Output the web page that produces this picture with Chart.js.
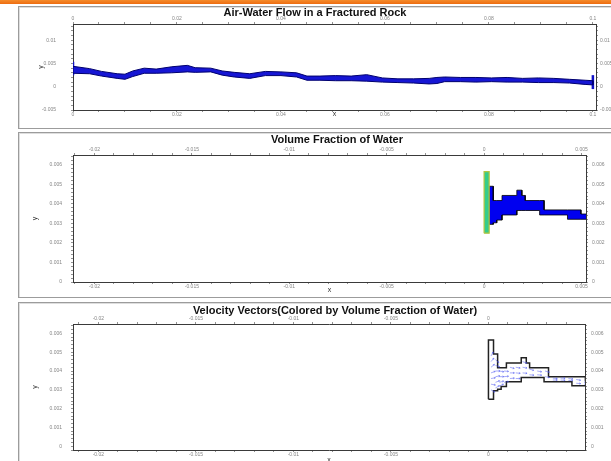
<!DOCTYPE html>
<html>
<head>
<meta charset="utf-8">
<script src="https://cdn.jsdelivr.net/npm/chart.js@4.4.1/dist/chart.umd.min.js"></script>
<style>
  html, body { margin: 0; padding: 0; }
  body { width: 611px; height: 461px; overflow: hidden; background: #fff; position: relative;
         font-family: "Liberation Sans", Arial, sans-serif; }
  .topbar { position: absolute; left: 0; top: 0; width: 611px; height: 4px;
            background: linear-gradient(#f48c2c, #ee6c10); }
  .frame { position: absolute; left: 18px; width: 630px; box-sizing: border-box;
           border: 1px solid #9c9c9c; box-shadow: inset 1px 1px 0 #dedede; background: #fff; }
  canvas { position: absolute; }
  .title { position: absolute; font-weight: bold; font-size: 11px; line-height: 12px; color: #111;
           white-space: nowrap; transform: translateX(-50%); }
</style>
</head>
<body>
<div class="topbar"></div>
<div class="frame" style="top:6px;height:123px"></div>
<div class="frame" style="top:132px;height:166px"></div>
<div class="frame" style="top:302px;height:200px"></div>

<canvas id="flow" width="620" height="122" style="left:18px;top:6px"></canvas>
<canvas id="fraction" width="620" height="165" style="left:18px;top:132px"></canvas>
<canvas id="vectors" width="620" height="170" style="left:18px;top:302px"></canvas>

<div class="title" style="left:315px;top:6px">Air-Water Flow in a Fractured Rock</div>
<div class="title" style="left:337px;top:133px">Volume Fraction of Water</div>
<div class="title" style="left:335px;top:304px">Velocity Vectors(Colored by Volume Fraction of Water)</div>

<script>
// ---------- fracture aperture along the whole rock sample (m) ----------
const flowX = [0, 0.0032, 0.0055, 0.0085, 0.010, 0.0115, 0.0137, 0.016, 0.019, 0.022, 0.0235,
  0.0265, 0.0287, 0.031, 0.034, 0.037, 0.040, 0.043, 0.045, 0.0475, 0.0505, 0.0535, 0.0565,
  0.0595, 0.0625, 0.0655, 0.0685, 0.070, 0.0715, 0.0745, 0.0775, 0.0805, 0.0835, 0.0865,
  0.0895, 0.0925, 0.0955, 0.0985, 0.100];
const flowUpper = [0.0044, 0.0039, 0.0033, 0.0028, 0.0027, 0.0034, 0.0040, 0.0038, 0.0043,
  0.0046, 0.0041, 0.0040, 0.0034, 0.0031, 0.0028, 0.0033, 0.0032, 0.0030, 0.0023, 0.0023,
  0.0024, 0.0023, 0.0026, 0.0019, 0.0017, 0.0017, 0.0018, 0.0020, 0.0021, 0.0020, 0.0020,
  0.0019, 0.0020, 0.0018, 0.0019, 0.0018, 0.0016, 0.0014, 0.0013];
const flowLower = [0.0029, 0.0028, 0.0023, 0.0018, 0.0016, 0.0022, 0.0029, 0.0029, 0.0030,
  0.0032, 0.0031, 0.0032, 0.0025, 0.0021, 0.0018, 0.0024, 0.0024, 0.0021, 0.0014, 0.0014,
  0.0013, 0.0013, 0.0012, 0.0010, 0.0009, 0.0008, 0.0006, 0.0007, 0.0011, 0.0011, 0.0010,
  0.0011, 0.0010, 0.0010, 0.0009, 0.0009, 0.0008, 0.0005, 0.0004];
// inlet / outlet faces of the fracture
const faceX = [0, 0.1];
const faceLow = [0.0025, -0.0005];
const faceHigh = [0.0054, 0.0025];

// ---------- zoomed inlet region ----------
const inletX = [0, 0.00026];
const inletY = [0.0025, 0.00565];
const channelEdges = [0.00026, 0.00047, 0.00065, 0.00092, 0.00168, 0.00194, 0.00211,
  0.00285, 0.00308, 0.00428, 0.00497, 0.0053];
const channelTop = [0.0049, 0.00417, 0.00417, 0.00443, 0.0047, 0.00443, 0.00417, 0.00417,
  0.00369, 0.00369, 0.00348];
const channelBottom = [0.00295, 0.00303, 0.00317, 0.00343, 0.00366, 0.00366, 0.00366,
  0.00343, 0.00343, 0.00321, 0.00321];

// velocity vectors: position and direction (degrees)
const vecX = [0.00013, 0.00013, 0.00013, 0.00013, 0.00013, 0.00013, 0.00013,
  0.00036, 0.00036, 0.00036, 0.00036, 0.00036, 0.00036,
  0.00056, 0.00056, 0.00056, 0.00056,
  0.0008, 0.0008, 0.0008, 0.0011, 0.0011, 0.0011, 0.0014, 0.0014, 0.0014,
  0.00175, 0.00175, 0.00175, 0.0021, 0.0021, 0.0025, 0.0025, 0.0029, 0.0029,
  0.0033, 0.0033, 0.0037, 0.0037, 0.0041, 0.0041, 0.0045, 0.0045, 0.0049, 0.0049];
const vecY = [0.0048, 0.0045, 0.0042, 0.0039, 0.0036, 0.0033, 0.0030,
  0.0046, 0.0043, 0.0040, 0.0037, 0.0034, 0.0031,
  0.0040, 0.0037, 0.0034, 0.0032,
  0.0040, 0.0037, 0.0034, 0.0042, 0.0039, 0.0036, 0.0042, 0.0039, 0.0036,
  0.0045, 0.0042, 0.0039, 0.0041, 0.0038, 0.0040, 0.0038, 0.0040, 0.0037,
  0.00362, 0.00352, 0.00362, 0.00352, 0.0036, 0.0035, 0.00355, 0.00335, 0.0034, 0.0033];
const vecAngle = [60, 50, 40, 20, 10, -10, -30,
  -40, -20, 0, 10, 20, 30,
  -10, 0, 15, 25,
  -5, 5, 10, -15, 0, 5, -10, -5, 0,
  -20, -10, -5, -15, -5, -10, -5, -15, -10,
  -5, 0, 0, -3, -5, 0, -10, -5, -5, 0];

// ---------- tick labels ----------
const flowXLabels = [0, 0.02, 0.04, 0.06, 0.08, 0.1];
const flowYLabels = [-0.005, 0, 0.005, 0.01];
const zoomXLabels = [-0.02, -0.015, -0.01, -0.005, 0, 0.005];
const zoomYLabels = [0, 0.001, 0.002, 0.003, 0.004, 0.005, 0.006];

const FONT = '"Liberation Sans", Arial, sans-serif';

function labelFrom(list, step) {
  return v => {
    for (const l of list) if (Math.abs(v - l) < step * 0.05) return String(l);
    return '';
  };
}

function axis(id, pos, min, max, step, labels, size, pad, title) {
  const horiz = pos === 'top' || pos === 'bottom';
  return {
    axis: id[0], type: 'linear', position: pos, min, max,
    afterFit: s => { if (horiz) s.height = size; else s.width = size; },
    ticks: { stepSize: step, includeBounds: false, autoSkip: false, maxRotation: 0, minRotation: 0,
             padding: pad, font: { family: FONT, size: 5 }, color: '#858585',
             callback: labelFrom(labels, step) },
    grid: { display: true, drawOnChartArea: false, drawTicks: true, tickLength: 2,
            color: '#777', lineWidth: 0.8 },
    border: { display: true, color: '#3a3a3a', width: 1 },
    title: title || { display: false }
  };
}

function axisTitle(text, padding) {
  return { display: true, text, color: '#333', font: { family: FONT, size: 7 }, padding };
}

const baseOptions = {
  responsive: false, animation: false, events: [],
  layout: { padding: 0 },
  plugins: { legend: { display: false }, tooltip: { enabled: false }, title: { display: false } },
  elements: { point: { radius: 0 }, line: { tension: 0 } }
};

// polygon helpers built from the arrays above
function bandPolygon() {
  const pts = flowX.map((x, i) => ({ x, y: flowUpper[i] }));
  for (let i = flowX.length - 1; i >= 0; i--) pts.push({ x: flowX[i], y: flowLower[i] });
  pts.push(pts[0]);
  return pts;
}

function channelPolygon(withInlet) {
  const n = channelTop.length, e = channelEdges, pts = [];
  if (withInlet) {
    pts.push({ x: inletX[0], y: inletY[0] }, { x: inletX[0], y: inletY[1] }, { x: inletX[1], y: inletY[1] });
  } else {
    pts.push({ x: e[0], y: channelBottom[0] });
  }
  pts.push({ x: e[0], y: channelTop[0] });
  for (let i = 0; i < n; i++) {
    pts.push({ x: e[i + 1], y: channelTop[i] });
    if (i < n - 1) pts.push({ x: e[i + 1], y: channelTop[i + 1] });
  }
  pts.push({ x: e[n], y: channelBottom[n - 1] });
  for (let i = n - 1; i >= 0; i--) {
    pts.push({ x: e[i], y: channelBottom[i] });
    if (i > 0) pts.push({ x: e[i], y: channelBottom[i - 1] });
  }
  if (withInlet) pts.push({ x: inletX[1], y: inletY[0] });
  pts.push(pts[0]);
  return pts;
}

function inletPolygon() {
  return [{ x: inletX[0], y: inletY[0] }, { x: inletX[0], y: inletY[1] },
          { x: inletX[1], y: inletY[1] }, { x: inletX[1], y: inletY[0] },
          { x: inletX[0], y: inletY[0] }];
}

// ---------- chart 1: whole fracture ----------
new Chart(document.getElementById('flow'), {
  type: 'scatter',
  data: {
    datasets: [
      { data: bandPolygon(), showLine: true, fill: 'shape', backgroundColor: '#1616d4',
        borderColor: '#00006e', borderWidth: 1 },
      ...faceX.map((x, i) => ({ data: [{ x, y: faceLow[i] }, { x, y: faceHigh[i] }], showLine: true,
        borderColor: '#1212c8', borderWidth: 2.5 }))
    ]
  },
  options: Object.assign({}, baseOptions, {
    scales: {
      x: axis('x', 'bottom', 0, 0.1006, 0.005, flowXLabels, 13, 0, axisTitle('x', { top: 0, bottom: 5 })),
      x2: axis('x2', 'top', 0, 0.1006, 0.005, flowXLabels, 14, 0),
      y: axis('y', 'left', -0.005, 0.0135, 0.001, flowYLabels, 55, 15, axisTitle('y', { top: 19, bottom: 0 })),
      y2: axis('y2', 'right', -0.005, 0.0135, 0.001, flowYLabels, 42, 2)
    }
  })
});

// ---------- chart 2: volume fraction of water ----------
new Chart(document.getElementById('fraction'), {
  type: 'scatter',
  data: {
    datasets: [
      { data: inletPolygon(), showLine: true, fill: 'shape', backgroundColor: '#34cc8c',
        borderColor: '#b4c43c', borderWidth: 1.2 },
      { data: channelPolygon(false), showLine: true, fill: 'shape', backgroundColor: '#0000f0',
        borderColor: '#000000', borderWidth: 0.8 }
    ]
  },
  options: Object.assign({}, baseOptions, {
    scales: {
      x: axis('x', 'bottom', -0.0211, 0.00523, 0.001, zoomXLabels, 15, 0, axisTitle('x', { top: 0, bottom: 3 })),
      x2: axis('x2', 'top', -0.0211, 0.00523, 0.001, zoomXLabels, 23, 0),
      y: axis('y', 'left', 0, 0.0065, 0.0002, zoomYLabels, 55, 9, axisTitle('y', { top: 13, bottom: 0 })),
      y2: axis('y2', 'right', 0, 0.0065, 0.0002, zoomYLabels, 52, 4)
    }
  })
});

// ---------- chart 3: velocity vectors ----------
const vectorPlugin = {
  id: 'velocityVectors',
  afterDatasetsDraw(chart) {
    const { ctx, chartArea: a, scales: { x, y } } = chart;
    ctx.save();
    ctx.beginPath();
    ctx.rect(a.left, a.top, a.right - a.left, a.bottom - a.top);
    ctx.clip();
    ctx.strokeStyle = 'rgba(70, 80, 240, 0.6)';
    ctx.lineWidth = 0.8;
    const len = 4.5;
    vecX.forEach((vx, i) => {
      const px = x.getPixelForValue(vx), py = y.getPixelForValue(vecY[i]);
      const ang = vecAngle[i] * Math.PI / 180;
      const ex = px + len * Math.cos(ang), ey = py - len * Math.sin(ang);
      ctx.beginPath();
      ctx.moveTo(px, py);
      ctx.lineTo(ex, ey);
      const h = 1.6;
      ctx.moveTo(ex, ey);
      ctx.lineTo(ex - h * Math.cos(ang - 0.5), ey + h * Math.sin(ang - 0.5));
      ctx.moveTo(ex, ey);
      ctx.lineTo(ex - h * Math.cos(ang + 0.5), ey + h * Math.sin(ang + 0.5));
      ctx.stroke();
    });
    ctx.restore();
  }
};

new Chart(document.getElementById('vectors'), {
  type: 'scatter',
  data: {
    datasets: [
      { data: channelPolygon(true), showLine: true, fill: false,
        borderColor: '#222222', borderWidth: 1.5 }
    ]
  },
  options: Object.assign({}, baseOptions, {
    scales: {
      x: axis('x', 'bottom', -0.0213, 0.00495, 0.001, zoomXLabels, 22, 0, axisTitle('x', { top: 0, bottom: 8 })),
      x2: axis('x2', 'top', -0.0213, 0.00495, 0.001, zoomXLabels, 22, 0),
      y: axis('y', 'left', -0.0002, 0.0065, 0.0002, zoomYLabels, 55, 9, axisTitle('y', { top: 13, bottom: 0 })),
      y2: axis('y2', 'right', -0.0002, 0.0065, 0.0002, zoomYLabels, 53, 4)
    }
  }),
  plugins: [vectorPlugin]
});
</script>
</body>
</html>
